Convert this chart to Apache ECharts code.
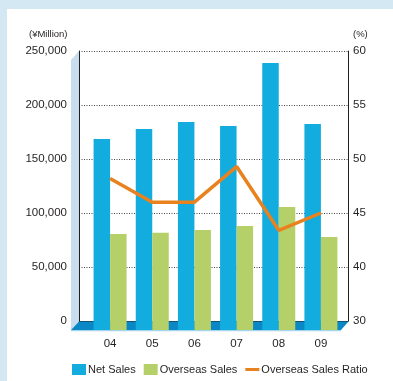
<!DOCTYPE html>
<html>
<head>
<meta charset="utf-8">
<style>
  html, body { margin: 0; padding: 0; background: #ffffff; }
  #chart { width: 393px; height: 381px; }
</style>
<script src="https://cdn.jsdelivr.net/npm/echarts@6/dist/echarts.min.js"></script>
</head>
<body>
<div id="chart"></div>
<script>
// ---- data ----
var categories = ['04', '05', '06', '07', '08', '09'];
var netSales = [176900, 186100, 192600, 188900, 247200, 190700];
var overseasSales = [88900, 90100, 92600, 96300, 113900, 86100];
var overseasRatio = [48.2, 46.0, 46.0, 49.3, 43.4, 45.0];
var rightTickLabels = ['30', '40', '45', '50', '55', '60'];
var leftUnit = '(¥Million)';
var rightUnit = '(%)';

var FONT = '"Liberation Sans", Arial, Helvetica, sans-serif';
var TXT = '#231f20';

var chart = echarts.init(document.getElementById('chart'), null, { renderer: 'canvas' });

var option = {
  backgroundColor: '#ffffff',
  animation: false,
  textStyle: { fontFamily: FONT },
  grid: [
    { left: 89, right: 51, top: 60, bottom: 51 },   // front plane: bars
    { left: 79, right: 45, top: 51, bottom: 60 },   // back wall: axes & gridlines
    { left: 89, right: 51, top: 51, bottom: 60 }    // ratio line
  ],
  xAxis: [
    {
      gridIndex: 0, type: 'category', data: categories,
      axisLine: { show: false }, axisTick: { show: false },
      axisLabel: { margin: 8, fontSize: 11.5, color: TXT, fontFamily: FONT }
    },
    {
      gridIndex: 1, type: 'category', data: [''],
      axisLine: { show: true, lineStyle: { color: '#231f20', width: 1 } },
      axisTick: { show: false }, axisLabel: { show: false }, splitLine: { show: false }
    },
    {
      gridIndex: 2, type: 'category', data: categories, show: false
    }
  ],
  yAxis: [
    { gridIndex: 0, type: 'value', min: 0, max: 250000, show: false, splitLine: { show: false } },
    {
      gridIndex: 1, type: 'value', min: 0, max: 250000, interval: 50000, position: 'left',
      axisLine: { show: true, lineStyle: { color: '#231f20', width: 1 } },
      axisTick: { show: false },
      axisLabel: {
        margin: 12, fontSize: 11.5, color: TXT, fontFamily: FONT,
        formatter: function (v) { return v.toLocaleString('en-US'); }
      },
      splitLine: { show: true, lineStyle: { color: '#444444', width: 1, type: [1, 1.5] } }
    },
    {
      gridIndex: 1, type: 'value', min: 35, max: 60, interval: 5, position: 'right',
      axisLine: { show: true, lineStyle: { color: '#231f20', width: 1 } },
      axisTick: { show: false },
      axisLabel: {
        margin: 5, fontSize: 11.5, color: TXT, fontFamily: FONT,
        formatter: function (v) { return rightTickLabels[Math.round((v - 35) / 5)]; }
      },
      splitLine: { show: false }
    },
    { gridIndex: 2, type: 'value', min: 35, max: 60, show: false, splitLine: { show: false } }
  ],
  legend: {
    left: 72, top: 364, padding: 0, itemWidth: 14, itemHeight: 11, itemGap: 8,
    textStyle: { fontSize: 11, color: TXT, fontFamily: FONT, padding: [0, 0, 0, -3] },
    data: [
      { name: 'Net Sales', icon: 'rect' },
      { name: 'Overseas Sales', icon: 'rect' },
      { name: 'Overseas Sales Ratio', icon: 'path://M0,0 L14,0 L14,3 L0,3 Z' }
    ]
  },
  graphic: [
    { type: 'rect', shape: { x: 0, y: 0, width: 393, height: 9 }, style: { fill: '#d3e8f3' }, z: 0 },
    { type: 'rect', shape: { x: 0, y: 0, width: 7, height: 381 }, style: { fill: '#d3e8f3' }, z: 0 },
    { type: 'polygon', shape: { points: [[71, 60], [79, 51], [79, 321], [71, 330]] }, style: { fill: '#c8ddee' }, z: 1 },
    { type: 'polygon', shape: { points: [[79, 321.5], [348.5, 321.5], [341, 330], [71, 330]] }, style: { fill: '#0a88c6' }, z: 1 },
    { type: 'rect', shape: { x: 71, y: 330, width: 270, height: 1.2 }, style: { fill: '#a8d5ee' }, z: 1 },
    { type: 'text', left: 29, top: 29, style: { text: leftUnit, fontSize: 9.5, fill: TXT, fontFamily: FONT }, z: 5 },
    { type: 'text', left: 353, top: 29, style: { text: rightUnit, fontSize: 9.5, fill: TXT, fontFamily: FONT }, z: 5 }
  ],
  series: [
    {
      name: 'Net Sales', type: 'bar', xAxisIndex: 0, yAxisIndex: 0,
      data: netSales, barWidth: 16.5, barGap: '0%',
      itemStyle: { color: '#13acdf' }, z: 3
    },
    {
      name: 'Overseas Sales', type: 'bar', xAxisIndex: 0, yAxisIndex: 0,
      data: overseasSales, barWidth: 16.5, barGap: '0%',
      itemStyle: { color: '#b5d069' }, z: 3
    },
    {
      name: 'Overseas Sales Ratio', type: 'line', xAxisIndex: 2, yAxisIndex: 3,
      data: overseasRatio, symbol: 'none', showSymbol: false,
      lineStyle: { color: '#e8821e', width: 3.5 }, itemStyle: { color: '#e8821e' }, z: 4
    }
  ]
};
chart.setOption(option);
</script>
</body>
</html>
